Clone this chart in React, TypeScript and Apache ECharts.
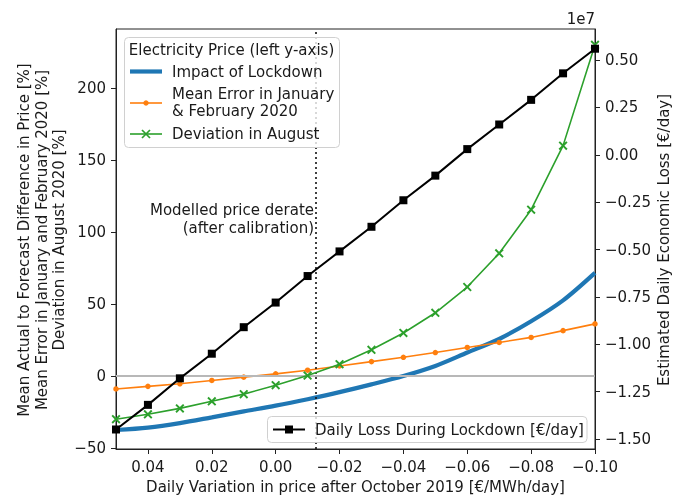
import React, { useEffect, useRef } from "react";
import * as echarts from "echarts";

// x values: daily variation in price after October 2019 [€/MWh/day]
const xValues = [0.05, 0.04, 0.03, 0.02, 0.01, 0.0, -0.01, -0.02, -0.03, -0.04, -0.05, -0.06, -0.07, -0.08, -0.09, -0.1];
// left axis series [%]
const impactOfLockdown = [-37.5, -35.8, -32.7, -28.7, -24.6, -20.6, -16.1, -11.2, -5.8, 0, 7, 16.3, 25.7, 38, 52.5, 71.6];
const meanErrorJanFeb = [-9, -7.2, -5.4, -3.1, -0.8, 1.5, 4, 7, 10, 13, 16.3, 19.8, 23.3, 26.8, 31.5, 36.2];
const deviationAugust = [-30, -26.6, -22.5, -17.6, -12.6, -6.4, 0.3, 8.2, 18.2, 29.9, 43.9, 61.8, 85.2, 115.5, 160, 230];
// right axis series [€/day], in units of 1e7
const dailyLoss1e7 = [-1.45, -1.32, -1.18, -1.05, -0.91, -0.78, -0.64, -0.51, -0.38, -0.24, -0.11, 0.03, 0.16, 0.29, 0.43, 0.56];

const xTicks = [0.04, 0.02, 0.0, -0.02, -0.04, -0.06, -0.08, -0.1];
const leftTicks = [-50, 0, 50, 100, 150, 200];
const rightTicks = [-1.5, -1.25, -1.0, -0.75, -0.5, -0.25, 0.0, 0.25, 0.5];
const leftRange = [-50.7, 241];
const rightRange = [-1.553, 0.664];
const deratePosition = -0.0124;

const FONT = "DejaVu Sans";
const FS = 15;
const TXT = "#1a1a1a";
const fmt = (v: number, d: number) => {
  const s = Math.abs(v) < 1e-9 ? (0).toFixed(d) : v.toFixed(d);
  return s.replace("-", "\u2212");
};
const pairs = (ys: number[]) => xValues.map((x, i) => [x, ys[i]]);

const xSymbol = "path://M0,1.5L1.5,0L5,3.5L8.5,0L10,1.5L6.5,5L10,8.5L8.5,10L5,6.5L1.5,10L0,8.5L3.5,5Z";

export default function App() {
  const ref = useRef<HTMLDivElement>(null);
  useEffect(() => {
    if (!ref.current) return;
    const chart = echarts.init(ref.current, null, { renderer: "svg" });
    const axisCommon = {
      axisLine: { show: true, onZero: false, lineStyle: { color: "#222", width: 1 } },
      axisTick: { show: true, inside: false, length: 5, lineStyle: { color: "#222", width: 1 } },
      splitLine: { show: false },
    };
    const labelCommon = { margin: 10, fontFamily: FONT, fontSize: FS, color: TXT };
    const txt = (text: string, x: number, y: number, extra: any = {}, rotation = 0) => ({
      type: "text",
      x,
      y,
      rotation,
      z: 100,
      style: {
        text,
        font: `${FS}px "${FONT}"`,
        fill: TXT,
        textAlign: "center",
        textVerticalAlign: "middle",
        lineHeight: 17.5,
        ...extra,
      },
    });
    const ln = (x1: number, y1: number, x2: number, y2: number, stroke: string, lineWidth: number) => ({
      type: "line",
      z: 101,
      shape: { x1, y1, x2, y2 },
      style: { stroke, lineWidth },
    });
    chart.setOption({
      animation: false,
      grid: {
        left: 116,
        right: 88,
        top: 29,
        bottom: 46,
        show: true,
        borderColor: "#222",
        borderWidth: 1,
        backgroundColor: "transparent",
        outerBoundsMode: "none",
      },
      xAxis: {
        type: "value",
        min: -0.1,
        max: 0.05,
        inverse: true,
        ...axisCommon,
        axisTick: { ...axisCommon.axisTick, customValues: xTicks },
        axisLabel: { ...labelCommon, customValues: xTicks, formatter: (v: number) => fmt(v, 2) },
      },
      yAxis: [
        {
          type: "value",
          min: leftRange[0],
          max: leftRange[1],
          position: "left",
          ...axisCommon,
          axisTick: { ...axisCommon.axisTick, customValues: leftTicks },
          axisLabel: { ...labelCommon, customValues: leftTicks, formatter: (v: number) => fmt(v, 0) },
        },
        {
          type: "value",
          min: rightRange[0],
          max: rightRange[1],
          position: "right",
          ...axisCommon,
          axisTick: { ...axisCommon.axisTick, customValues: rightTicks },
          axisLabel: { ...labelCommon, customValues: rightTicks, formatter: (v: number) => fmt(v, 2) },
        },
      ],
      series: [
        {
          name: "Impact of Lockdown",
          type: "line",
          yAxisIndex: 0,
          data: pairs(impactOfLockdown),
          smooth: 0.3,
          showSymbol: false,
          symbol: "none",
          lineStyle: { color: "#1f77b4", width: 4.2 },
          z: 3,
          markLine: {
            silent: true,
            symbol: "none",
            label: { show: false },
            data: [
              { yAxis: 0, lineStyle: { color: "#b8b8b8", width: 2, type: "solid" } },
              [
                { coord: [deratePosition, leftRange[0]], lineStyle: { color: "#111", width: 1.6, type: [2, 3] } },
                { coord: [deratePosition, leftRange[1]] },
              ],
            ],
          },
        },
        {
          name: "Mean Error in January & February 2020",
          type: "line",
          yAxisIndex: 0,
          data: pairs(meanErrorJanFeb),
          symbol: "circle",
          symbolSize: 5.5,
          itemStyle: { color: "#ff7f0e" },
          lineStyle: { color: "#ff7f0e", width: 1.6 },
          z: 4,
        },
        {
          name: "Deviation in August",
          type: "line",
          yAxisIndex: 0,
          data: pairs(deviationAugust),
          symbol: xSymbol,
          symbolSize: 9,
          itemStyle: { color: "#2ca02c" },
          lineStyle: { color: "#2ca02c", width: 1.6 },
          z: 5,
        },
        {
          name: "Daily Loss During Lockdown [€/day]",
          type: "line",
          yAxisIndex: 1,
          data: pairs(dailyLoss1e7),
          symbol: "rect",
          symbolSize: 8,
          itemStyle: { color: "#000" },
          lineStyle: { color: "#000", width: 2 },
          z: 6,
        },
      ],
      graphic: [
        txt(
          "Mean Actual to Forecast Difference in Price [%]\nMean Error in January and February 2020 [%]\nDeviation in August 2020 [%]",
          41.5,
          240,
          {},
          Math.PI / 2
        ),
        txt("Estimated Daily Economic Loss [€/day]", 664, 240, {}, Math.PI / 2),
        txt("Daily Variation in price after October 2019 [€/MWh/day]", 355.5, 487),
        txt("1e7", 595, 19, { textAlign: "right" }),
        txt("Modelled price derate\n(after calibration)", 314, 219, { textAlign: "right", lineHeight: 18 }),
        // legend 1
        {
          type: "rect",
          z: 99,
          shape: { x: 124.5, y: 37.5, width: 215, height: 110, r: 4 },
          style: { fill: "rgba(255,255,255,0.8)", stroke: "#d0d0d0", lineWidth: 1 },
        },
        txt("Electricity Price (left y-axis)", 231.5, 50),
        ln(130, 71.5, 162, 71.5, "#1f77b4", 4.2),
        txt("Impact of Lockdown", 172, 71.5, { textAlign: "left" }),
        ln(130, 103, 162, 103, "#ff7f0e", 1.6),
        { type: "circle", z: 102, shape: { cx: 146, cy: 103, r: 2.7 }, style: { fill: "#ff7f0e" } },
        txt("Mean Error in January\n& February 2020", 172, 102.5, { textAlign: "left" }),
        ln(130, 134, 162, 134, "#2ca02c", 1.6),
        ln(142, 130, 150, 138, "#2ca02c", 1.7),
        ln(150, 130, 142, 138, "#2ca02c", 1.7),
        txt("Deviation in August", 172, 134, { textAlign: "left" }),
        // legend 2
        {
          type: "rect",
          z: 99,
          shape: { x: 267.5, y: 416.5, width: 319.5, height: 26, r: 4 },
          style: { fill: "rgba(255,255,255,0.8)", stroke: "#d0d0d0", lineWidth: 1 },
        },
        ln(273, 429.5, 305, 429.5, "#000", 2),
        { type: "rect", z: 102, shape: { x: 285, y: 425.5, width: 8, height: 8 }, style: { fill: "#000" } },
        txt("Daily Loss During Lockdown [€/day]", 315, 429.5, { textAlign: "left" }),
      ],
    });
    return () => chart.dispose();
  }, []);
  return <div ref={ref} style={{ position: "fixed", left: 0, top: 0, width: 683, height: 495 }} />;
}
